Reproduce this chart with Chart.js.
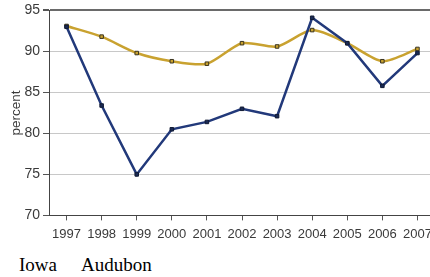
<!DOCTYPE html>
<html><head><meta charset="utf-8">
<script src="https://cdn.jsdelivr.net/npm/chart.js@4"></script>
<style>
html,body{margin:0;padding:0;background:#fff;overflow:hidden;width:430px;height:277px;position:relative;}
#wrap{position:absolute;left:0;top:-1px;width:440px;height:249px;}
.lg{position:absolute;top:255px;font-family:"Liberation Serif","Times New Roman",serif;font-size:19px;line-height:19px;color:#000;white-space:pre;}
</style></head>
<body>
<div id="wrap"><canvas id="c" width="440" height="249"></canvas></div>
<div class="lg" style="left:19px">Iowa</div>
<div class="lg" style="left:81px">Audubon</div>
<script>
const years = ["1997","1998","1999","2000","2001","2002","2003","2004","2005","2006","2007"];
const audubon = [93.0, 83.4, 75.0, 80.5, 81.4, 83.0, 82.1, 94.1, 91.0, 85.8, 89.8];
const iowa = [93.1, 91.8, 89.8, 88.8, 88.5, 91.0, 90.6, 92.6, 91.0, 88.8, 90.3];
const yTicks = [70, 75, 80, 85, 90, 95];

new Chart(document.getElementById('c'), {
  type: 'line',
  data: {
    labels: years,
    datasets: [
      {label: 'Audubon', data: audubon, borderColor: '#22397a', backgroundColor: '#1a2a55',
       borderWidth: 2.5, pointStyle: 'rect', pointRadius: 2.5, pointBorderColor: '#111a33', pointBorderWidth: 1,
       tension: 0, order: 0},
      {label: 'Iowa', data: iowa, borderColor: '#c9a230', backgroundColor: '#c9a230',
       borderWidth: 2.5, pointStyle: 'rect', pointRadius: 2.5, pointBorderColor: '#3a3420', pointBorderWidth: 1,
       tension: 0.25, order: 1}
    ]
  },
  options: {
    responsive: false, animation: false,
    layout: {padding: {top: 2, right: 0, bottom: 0, left: 0}},
    plugins: {legend: {display: false}, tooltip: {enabled: false}},
    scales: {
      x: {
        offset: true,
        grid: {display: true, drawOnChartArea: false, drawTicks: true, tickLength: 5, color: '#555', offset: false},
        border: {display: true, color: '#444', width: 1},
        ticks: {color: '#3a3a3a', font: {family: 'Liberation Sans', size: 13}, padding: 6, maxRotation: 0, autoSkip: false}
      },
      y: {
        min: 70, max: 95,
        afterBuildTicks: s => { s.ticks = yTicks.map(v => ({value: v})); },
        afterFit: s => { s.width = 49; },
        grid: {drawTicks: true, tickLength: 6, tickColor: '#555',
               color: c => c.tick && c.tick.value === 95 ? '#6a6a6a' : '#c8c8c8',
               lineWidth: c => c.tick && c.tick.value === 95 ? 2 : 1},
        border: {display: true, color: '#444', width: 1},
        title: {display: true, text: 'percent', color: '#3a3a3a', font: {family: 'Liberation Sans', size: 13.5}, padding: {top: 8, bottom: 0}},
        ticks: {color: '#3a3a3a', font: {family: 'Liberation Sans', size: 14}, padding: 3}
      }
    }
  }
});
</script>
</body></html>
